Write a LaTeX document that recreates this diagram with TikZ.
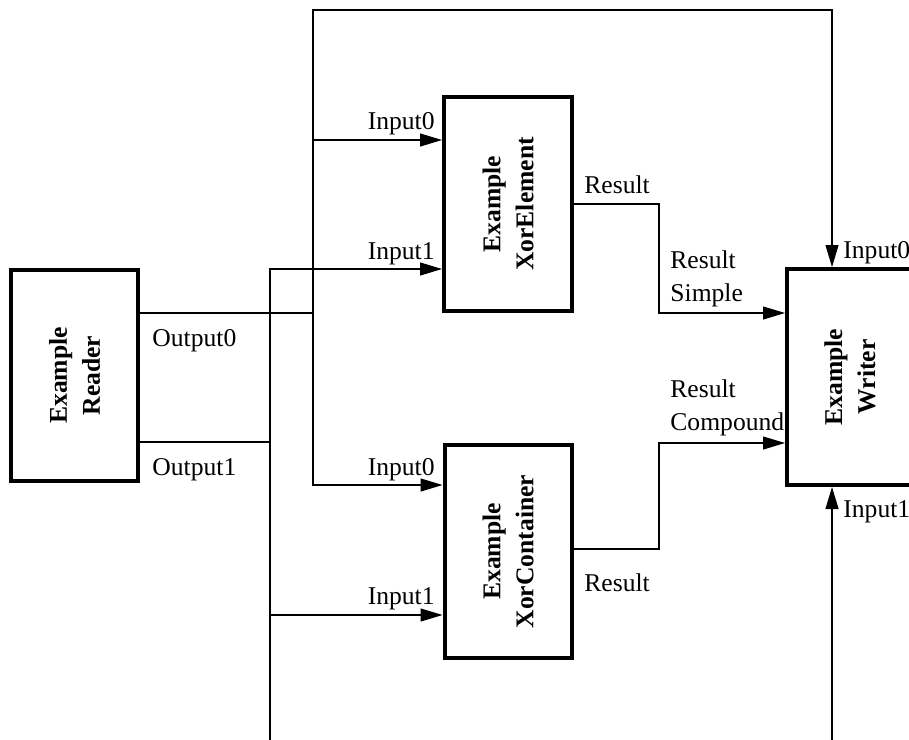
\documentclass[tikz,border=0pt]{standalone}
\usepackage{fontspec}
\setmainfont{Liberation Serif}
\usetikzlibrary{arrows.meta}
\begin{document}
\begin{tikzpicture}[
  x=0.5pt, y=-0.5pt,
  font=\fontsize{12.8}{16.5}\selectfont,
  block/.style={draw, line width=2pt, inner sep=0pt},
  blocktext/.style={rotate=90, align=center, inner sep=0pt,
    font=\fontsize{12.8}{16.5}\selectfont\bfseries},
  wire/.style={line width=0.55pt},
  feed/.style={wire, -{Triangle[length=11pt, width=6.5pt]}},
  port/.style={inner sep=0pt},
]
\useasboundingbox (0,0) rectangle (909,739);
\clip (0,0) rectangle (909,739);

% processing blocks
\node[block, minimum width=63.5pt, minimum height=105.5pt] (reader)  at (74.5,375.5) {};
\node[block, minimum width=64pt,   minimum height=107pt]   (xorel)   at (508,204) {};
\node[block, minimum width=63.5pt, minimum height=106.5pt] (xorcont) at (508,551.5) {};
\node[block, minimum width=63pt,   minimum height=108pt]   (writer)  at (850,377) {};

\node[blocktext] (reader-name)  at (reader)  {Example\\Reader};
\node[blocktext] (xorel-name)   at (xorel)   {Example\\XorElement};
\node[blocktext] (xorcont-name) at (xorcont) {Example\\XorContainer};
\node[blocktext] (writer-name)  at (writer)  {Example\\Writer};

% Output0 of the reader feeds three inputs
\draw[feed] (reader.east |- 0,313) -- (313,313) |- (xorel.west |- 0,140);
\draw[feed] (reader.east |- 0,313) -- (313,313) |- (xorcont.west |- 0,485);
\draw[feed] (reader.east |- 0,313) -- (313,313) |- (832,10) -- (writer.north -| 832,0);

% Output1 of the reader
\draw[feed] (reader.east |- 0,442) -- (270,442) |- (xorel.west |- 0,269);
\draw[feed] (reader.east |- 0,442) -- (270,442) |- (xorcont.west |- 0,615);
\draw[wire] (reader.east |- 0,442) -- (270,442) -- (270,750);
\draw[feed] (832,750) -- (writer.south -| 832,0);

% results into the writer
\draw[feed] (xorel.east |- 0,204) -| (659,313) -- (writer.west |- 0,313);
\draw[feed] (xorcont.east |- 0,549) -| (659,443) -- (writer.west |- 0,443);

% port labels (multi-line ones are placed by their last baseline)
\node[port, anchor=base west] (reader-out0) at (152,346) {Output0};
\node[port, anchor=base west] (reader-out1) at (152,475) {Output1};
\node[port, anchor=base east] (xorel-in0)   at (435,129) {Input0};
\node[port, anchor=base east] (xorel-in1)   at (435,259) {Input1};
\node[port, anchor=base east] (xorcont-in0) at (435,475) {Input0};
\node[port, anchor=base east] (xorcont-in1) at (435,604) {Input1};
\node[port, anchor=base west] (xorel-res)   at (584,193) {Result};
\node[port, anchor=base west] (xorcont-res) at (584,591) {Result};
\node[port, anchor=base west, align=left] (writer-simple)   at (670,301) {Result\\Simple};
\node[port, anchor=base west, align=left] (writer-compound) at (670,430) {Result\\Compound};
\node[port, anchor=base west] (writer-in0)  at (843,258) {Input0};
\node[port, anchor=base west] (writer-in1)  at (843,517) {Input1};
\end{tikzpicture}
\end{document}
